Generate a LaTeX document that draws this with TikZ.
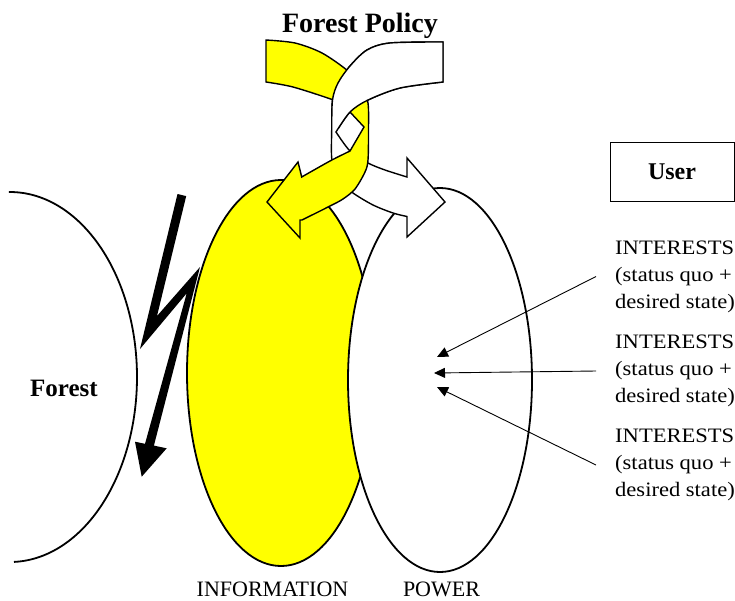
\documentclass[tikz,border=0pt]{standalone}
\usepackage{fontspec}
\setmainfont{Liberation Serif}
\newfontfamily\interestfont[FakeStretch=1.1]{Liberation Serif}
\usetikzlibrary{arrows.meta}
\definecolor{infoyellow}{RGB}{255,255,0}

% outline of the white (power) band, shared by the full band and its upper overlay
\newcommand\powerband{%
  (443,42)
  -- plot[smooth] coordinates {(443,42) (390,43) (367,50) (350,66) (338,83) (332.5,100)
        (331.7,130) (331.7,158) (336,172) (344,184) (353,193) (373,205) (393,213) (407,216.5)}
  -- (407,237) -- (445,202) -- (407,158) -- (407,177)
  -- plot[smooth] coordinates {(407,177) (385,170) (368,163) (350,151) (336,132)}
  -- plot[smooth] coordinates {(336,132) (350,112) (368,100) (400,88) (443,82)}
  -- cycle}

\begin{document}
\begin{tikzpicture}[x=1pt,y=-1pt,
  outline/.style={draw=black, line width=1.8pt},
  band/.style={draw=black, line width=1.4pt, line join=miter},
  yband/.style={band, fill=infoyellow},
  wband/.style={band, fill=white},
  title/.style={font=\fontsize{28}{32}\selectfont\bfseries, inner sep=0pt},
  heading/.style={font=\fontsize{25}{30}\selectfont\bfseries, inner sep=0pt},
  caption/.style={font=\fontsize{22}{26}\selectfont, inner sep=0pt},
  interest/.style={font=\interestfont\fontsize{20.5}{27}\selectfont, align=left,
                   inner ysep=0pt, inner xsep=19pt},
  userbox/.style={draw=black, line width=1pt, minimum width=124pt, minimum height=59pt,
                  font=\fontsize{24}{28}\selectfont\bfseries},
  pointer/.style={-{Triangle[length=11pt,width=10pt]}, line width=0.9pt}]
\useasboundingbox (0,0) rectangle (735,600);

% forest boundary
\draw[outline] plot[domain=-88.2:90.5, samples=120, smooth]
  ({10+127*cos(\x)},{377-185*sin(\x)});

% information and power
\draw[outline, fill=infoyellow] (281,373) ellipse [x radius=94pt, y radius=193pt];
\draw[outline, fill=white] (440,380) ellipse [x radius=92pt, y radius=192pt];

% braided policy arrows: white under, yellow over, then white on top at the upper crossing
\path[wband] \powerband;
\path[yband] (266,40)
  -- plot[smooth] coordinates {(266,40) (295,43) (322,53) (348,71) (362,87) (368,103)
        (368.5,130) (368,160) (365,172) (355,189) (343,199) (330,206) (302,220)}
  -- (300,220) -- (300,238) -- (267,202) -- (298,162) -- (301.7,177)
  -- plot[smooth] coordinates {(301.7,177) (330,161) (350,151)}
  -- (364,127) -- (350,112)
  -- plot[smooth] coordinates {(350,112) (340,104) (332,99.5) (293,87) (266,82)}
  -- cycle;
\begin{scope}
  \clip (300,0) rectangle (460,128);
  \path[wband] \powerband;
\end{scope}

% lightning bolt striking the forest
\fill (177.5,194) -- (140,349) -- (186.7,293.3) -- (145,443.8) -- (135,441.7)
  -- (141.7,476.7) -- (166.7,448.3) -- (153.9,445.6) -- (200,267) -- (157,316)
  -- (186.2,196.1) -- cycle;

% labels
\node[title, anchor=base] (policy) at (360,32) {Forest Policy};
\node[heading, anchor=base] (forest) at (64,396) {Forest};
\node[caption, anchor=base] (info) at (272.5,596) {INFORMATION};
\node[caption, anchor=base] (power) at (441.5,596) {POWER};
\node[userbox] (user) at (672,171.5) {User};

% user interests pointing into power
\node[interest, anchor=west] (int1) at (596,276.5) {INTERESTS\\(status quo +\\desired state)};
\node[interest, anchor=west] (int2) at (596,371) {INTERESTS\\(status quo +\\desired state)};
\node[interest, anchor=west] (int3) at (596,465) {INTERESTS\\(status quo +\\desired state)};
\coordinate (tip1) at (437,357);
\coordinate (tip2) at (434,373);
\coordinate (tip3) at (437,387);
\draw[pointer] (int1.west) -- (tip1);
\draw[pointer] (int2.west) -- (tip2);
\draw[pointer] (int3.west) -- (tip3);
\end{tikzpicture}
\end{document}
